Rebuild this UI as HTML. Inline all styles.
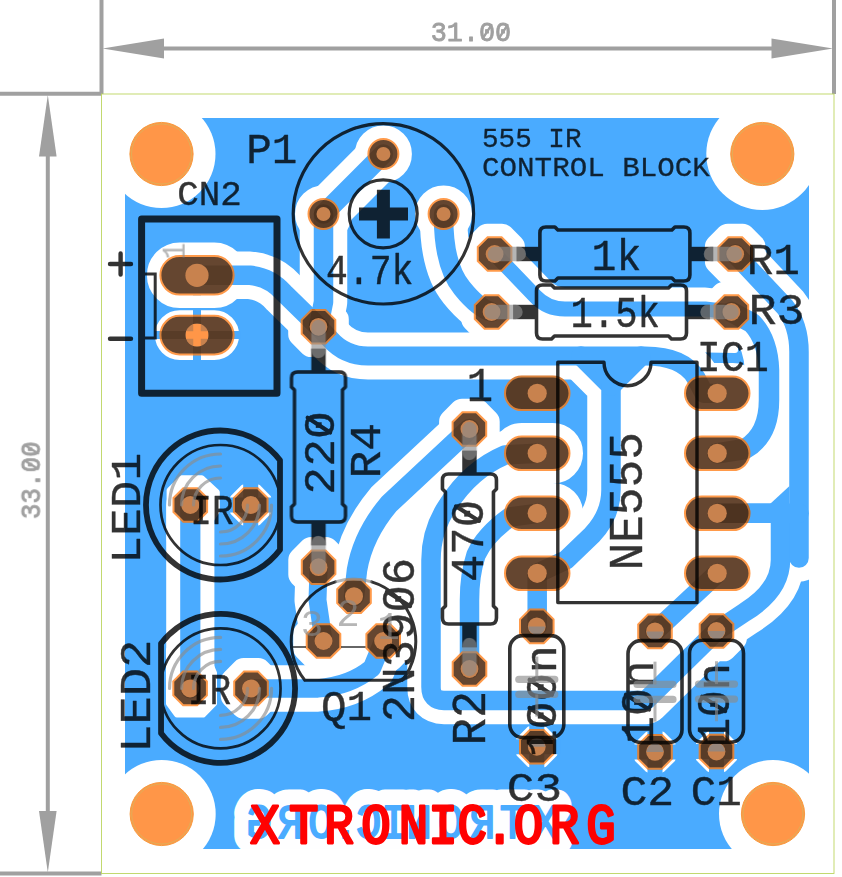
<!DOCTYPE html>
<html lang="en"><head><meta charset="utf-8"><title>555 IR Control Block PCB</title>
<style>html,body{margin:0;padding:0;background:#fff;overflow:hidden}svg{display:block}</style>
</head><body>
<svg width="842" height="877" viewBox="0 0 842 877">
<rect width="842" height="877" fill="#fff"/>
<g stroke="#a0a0a0" stroke-width="4" fill="#a0a0a0">
<line x1="101.5" y1="0" x2="101.5" y2="94"/><line x1="834" y1="0" x2="834" y2="94"/>
<line x1="0" y1="93.7" x2="101.5" y2="93.7"/><line x1="0" y1="873.5" x2="101.5" y2="873.5"/>
<line x1="150" y1="48.5" x2="786" y2="48.5"/><line x1="47.8" y1="142" x2="47.8" y2="826"/>
</g>
<g fill="#a0a0a0">
<polygon points="102.5,48.5 164,38.5 164,58.5"/><polygon points="833,48.5 771.5,38.5 771.5,58.5"/>
<polygon points="47.8,95 39,156.5 56.6,156.5"/><polygon points="47.8,872.5 39,811 56.6,811"/>
</g>
<g opacity="0.995">
<g transform="translate(430.79,40.60) scale(0.2681,0.2682)"><text font-family="Liberation Mono, monospace" font-weight="normal" font-size="100" fill="#a0a0a0" stroke="#a0a0a0" stroke-width="2.98" stroke-linejoin="round" stroke-linecap="round" >31.00</text><path d="M194.0,-8 L226.0,-58 M254.0,-8 L286.0,-58" fill="none" stroke="#a0a0a0" stroke-width="9" stroke-linecap="round"/></g>
<g transform="translate(40.10,519.16) rotate(-90) scale(0.2594,0.2682)"><text font-family="Liberation Mono, monospace" font-weight="normal" font-size="100" fill="#a0a0a0" stroke="#a0a0a0" stroke-width="3.03" stroke-linejoin="round" stroke-linecap="round" >33.00</text><path d="M194.0,-8 L226.0,-58 M254.0,-8 L286.0,-58" fill="none" stroke="#a0a0a0" stroke-width="9" stroke-linecap="round"/></g>
</g>
<rect x="101.5" y="94" width="732.5" height="779.5" fill="none" stroke="#bcd660" stroke-width="0.9"/>
<rect x="125" y="118" width="684" height="731" fill="#4aabff"/>
<circle cx="161.5" cy="154" r="54" fill="#fff"/>
<circle cx="762.3" cy="154" r="56" fill="#fff"/>
<circle cx="161.7" cy="814" r="54" fill="#fff"/>
<circle cx="773" cy="814" r="54" fill="#fff"/>
<rect x="762" y="110" width="55" height="50" fill="#fff"/>
<g fill="none" stroke="#fff" stroke-linecap="round" stroke-linejoin="round">
<path d="M197,275.3 H250 Q270,277 284,293 L318.5,326.8" stroke-width="47.5"/>
<path d="M323.5,214 V302 L318.5,326.8" stroke-width="47.5"/>
<path d="M323.5,214 L383.4,154" stroke-width="47.5"/>
<path d="M318.5,326.8 L330,339 Q345,356 368,356 H645 Q683,356 696,378 L704,393.3 L717.2,393.3" stroke-width="47.2"/>
<path d="M581,356 L611,386 V490 Q611,515 592,535 L566,560 L537.2,573.3" stroke-width="47.5"/>
<path d="M641,356 L611,386" stroke-width="47.5"/>
<path d="M537.2,573.3 V626.4" stroke-width="47.5"/>
<path d="M537.2,513.3 L510,517 Q485,535 476,555 Q469.5,575 469.5,600 V669" stroke-width="47.5"/>
<path d="M537.2,453.3 L505,455 Q470,470 448,505 Q431,530 431,560 V687 Q431,700.4 444,700.4 H646 L716.5,631 L745,612 Q780.5,590 780.5,560 V513.3 H717.2" stroke-width="47.5"/>
<path d="M735.2,254 L785,307 Q799,325 799,352 V558" stroke-width="47.5"/>
<path d="M717.2,513.3 H799" stroke-width="47.5"/>
<path d="M731.4,312 L752,323 Q768,340 769,370 V400 Q769,435 745,449 L717.2,453.3" stroke-width="48.5"/>
<path d="M443.6,214 Q443,265 462,288 Q478,308 491.6,312" stroke-width="47.5"/>
<path d="M494.6,254 L535,296 Q547,309 565,309 H705 L731.4,312" stroke-width="43.0"/>
<path d="M717.2,573.3 L655,631.4" stroke-width="47.5"/>
<path d="M469.4,429 L389,504 Q363,535 357,570 L354,596.2" stroke-width="48.5"/>
<path d="M318.6,567.2 L317.5,600 L323.5,641" stroke-width="46.0"/>
<path d="M251,688.4 H318 Q350,686 372,668 L383.2,641" stroke-width="46.5"/>
<path d="M190.3,505 V688.4" stroke-width="48.2"/>
</g>
<g fill="#fff" stroke="#fff" stroke-linejoin="round">
<rect x="159.4" y="255.0" width="75.2" height="40.6" rx="20.3" stroke-width="25.0"/>
<rect x="159.4" y="314.8" width="75.2" height="40.6" rx="20.3" stroke-width="9"/>
<circle cx="383.4" cy="154" r="16" stroke-width="25.0"/>
<circle cx="323.5" cy="214" r="16" stroke-width="25.0"/>
<circle cx="443.6" cy="214" r="16" stroke-width="25.0"/>
<polygon points="487.2,236.2 502.0,236.2 512.4,246.6 512.4,261.4 502.0,271.8 487.2,271.8 476.8,261.4 476.8,246.6" stroke-width="25.0"/>
<polygon points="727.8,236.2 742.6,236.2 753.0,246.6 753.0,261.4 742.6,271.8 727.8,271.8 717.4,261.4 717.4,246.6" stroke-width="25.0"/>
<polygon points="484.2,294.2 499.0,294.2 509.4,304.6 509.4,319.4 499.0,329.8 484.2,329.8 473.8,319.4 473.8,304.6" stroke-width="25.0"/>
<polygon points="724.0,294.2 738.8,294.2 749.2,304.6 749.2,319.4 738.8,329.8 724.0,329.8 713.6,319.4 713.6,304.6" stroke-width="25.0"/>
<polygon points="311.1,309.0 325.9,309.0 336.3,319.4 336.3,334.2 325.9,344.6 311.1,344.6 300.7,334.2 300.7,319.4" stroke-width="25.0"/>
<polygon points="311.2,549.4 326.0,549.4 336.4,559.8 336.4,574.6 326.0,585.0 311.2,585.0 300.8,574.6 300.8,559.8" stroke-width="25.0"/>
<polygon points="462.0,411.2 476.8,411.2 487.2,421.6 487.2,436.4 476.8,446.8 462.0,446.8 451.6,436.4 451.6,421.6" stroke-width="25.0"/>
<polygon points="462.1,651.2 476.9,651.2 487.3,661.6 487.3,676.4 476.9,686.8 462.1,686.8 451.7,676.4 451.7,661.6" stroke-width="25.0"/>
<rect x="684.0" y="375.5" width="66.5" height="35.6" rx="17.8" stroke-width="25.0"/>
<rect x="504.0" y="435.5" width="66.5" height="35.6" rx="17.8" stroke-width="25.0"/>
<rect x="684.0" y="435.5" width="66.5" height="35.6" rx="17.8" stroke-width="25.0"/>
<rect x="504.0" y="495.5" width="66.5" height="35.6" rx="17.8" stroke-width="25.0"/>
<rect x="684.0" y="495.5" width="66.5" height="35.6" rx="17.8" stroke-width="25.0"/>
<rect x="504.0" y="555.5" width="66.5" height="35.6" rx="17.8" stroke-width="25.0"/>
<rect x="684.0" y="555.5" width="66.5" height="35.6" rx="17.8" stroke-width="25.0"/>
<polygon points="529.4,608.6 544.2,608.6 554.6,619.0 554.6,633.8 544.2,644.2 529.4,644.2 519.0,633.8 519.0,619.0" stroke-width="25.0"/>
<polygon points="647.6,613.6 662.4,613.6 672.8,624.0 672.8,638.8 662.4,649.2 647.6,649.2 637.2,638.8 637.2,624.0" stroke-width="25.0"/>
<polygon points="709.1,613.2 723.9,613.2 734.3,623.6 734.3,638.4 723.9,648.8 709.1,648.8 698.7,638.4 698.7,623.6" stroke-width="25.0"/>
<polygon points="529.4,729.0 544.2,729.0 554.6,739.4 554.6,754.2 544.2,764.6 529.4,764.6 519.0,754.2 519.0,739.4" stroke-width="5.4"/>
<polygon points="647.6,734.1 662.4,734.1 672.8,744.5 672.8,759.3 662.4,769.7 647.6,769.7 637.2,759.3 637.2,744.5" stroke-width="5.4"/>
<polygon points="709.1,733.7 723.9,733.7 734.3,744.1 734.3,758.9 723.9,769.3 709.1,769.3 698.7,758.9 698.7,744.1" stroke-width="5.4"/>
<polygon points="346.6,578.4 361.4,578.4 371.8,588.8 371.8,603.6 361.4,614.0 346.6,614.0 336.2,603.6 336.2,588.8" stroke-width="25.0"/>
<polygon points="316.1,623.2 330.9,623.2 341.3,633.6 341.3,648.4 330.9,658.8 316.1,658.8 305.7,648.4 305.7,633.6" stroke-width="25.0"/>
<polygon points="375.8,623.2 390.6,623.2 401.0,633.6 401.0,648.4 390.6,658.8 375.8,658.8 365.4,648.4 365.4,633.6" stroke-width="25.0"/>
<polygon points="243.3,487.2 258.1,487.2 268.5,497.6 268.5,512.4 258.1,522.8 243.3,522.8 232.9,512.4 232.9,497.6" stroke-width="5.4"/>
<polygon points="243.6,670.6 258.4,670.6 268.8,681.0 268.8,695.8 258.4,706.2 243.6,706.2 233.2,695.8 233.2,681.0" stroke-width="25.0"/>
</g>
<g fill="#fff" stroke="#fff" stroke-width="6" stroke-linejoin="round">
<polygon points="169.6,490.4 181.9,478.2 201.7,478.2 216.8,492.3 216.8,511 210.2,521 210.2,540 169.6,540"/>
<polygon points="169,650 169,703.5 177,714.6 203,714.6 214,703.5 214,673 210.6,665 210.6,650"/>
<polygon points="318.6,567.2 360,548 354,596.2 323.5,641"/>
<polygon points="323.5,641 354,596.2 383.2,641"/>
<polygon points="323.5,641 383.2,641 345,687 300,687"/>
<polygon points="354,596.2 360,548 390,510 469.4,429 467,483 448,510 431,540 431,660 383.2,641"/>
<polygon points="537.2,453.3 537.2,513.3 499,524 481,543 469.5,571 469.5,640 431,640 431,540 448.5,510 467.5,483.5 493.6,460"/>
<polygon points="537.2,513.3 537.2,700 469.5,700 469.5,575 481,543 499,524"/>
<polygon points="611,386 641,356 660,356 717.2,393.3 717.2,573.3 655,631.4 646,700 537.2,700 537.2,573.3 567,558 611,500"/>
<polygon points="717.2,393.3 745,370 769,400 745,449 717.2,453.3"/>
<polygon points="717.2,453.3 745,449 769,400 799,400 799,500 780.5,513.3 717.2,513.3"/>
<polygon points="717.2,513.3 780.5,513.3 780.5,560 745,612 716.5,631 717.2,573.3"/>
<polygon points="716.5,631 717.2,573.3 655,631.4 646,700"/>
<polygon points="515,322 540,300 735,300 735,350 515,346"/>
<polygon points="494.6,254 540,300 491.6,312 462,288"/>
<polygon points="731.4,312 735.2,254 785,307 799,340 769,370 752,323"/>
</g>
<g opacity="0.995" transform="translate(557,0) scale(-1,1)"><text transform="translate(0,839.00) scale(0.4416,0.5000)" x="26.4 100.9 168.8 240.6 312.6 369.5 426.2 479.3 534.6 603.9 674.5" y="0" text-anchor="middle" font-family="Liberation Mono, monospace" font-weight="normal" font-size="100" fill="#fff" stroke="#fff" stroke-width="65.97" stroke-linejoin="round" stroke-linecap="round" >XTRONIC.ORG</text></g>
<g fill="none" stroke="#4aabff" stroke-linecap="round" stroke-linejoin="round">
<path d="M197,275.3 H250 Q270,277 284,293 L318.5,326.8" stroke-width="19.5"/>
<path d="M323.5,214 V302 L318.5,326.8" stroke-width="19.5"/>
<path d="M323.5,214 L383.4,154" stroke-width="19.5"/>
<path d="M318.5,326.8 L330,339 Q345,356 368,356 H645 Q683,356 696,378 L704,393.3 L717.2,393.3" stroke-width="19.2"/>
<path d="M581,356 L611,386 V490 Q611,515 592,535 L566,560 L537.2,573.3" stroke-width="19.5"/>
<path d="M641,356 L611,386" stroke-width="19.5"/>
<path d="M537.2,573.3 V626.4" stroke-width="19.5"/>
<path d="M537.2,513.3 L510,517 Q485,535 476,555 Q469.5,575 469.5,600 V669" stroke-width="19.5"/>
<path d="M537.2,453.3 L505,455 Q470,470 448,505 Q431,530 431,560 V687 Q431,700.4 444,700.4 H646 L716.5,631 L745,612 Q780.5,590 780.5,560 V513.3 H717.2" stroke-width="19.5"/>
<path d="M735.2,254 L785,307 Q799,325 799,352 V558" stroke-width="19.5"/>
<path d="M717.2,513.3 H799" stroke-width="19.5"/>
<path d="M731.4,312 L752,323 Q768,340 769,370 V400 Q769,435 745,449 L717.2,453.3" stroke-width="20.5"/>
<path d="M443.6,214 Q443,265 462,288 Q478,308 491.6,312" stroke-width="19.5"/>
<path d="M494.6,254 L535,296 Q547,309 565,309 H705 L731.4,312" stroke-width="15"/>
<path d="M717.2,573.3 L655,631.4" stroke-width="19.5"/>
<path d="M469.4,429 L389,504 Q363,535 357,570 L354,596.2" stroke-width="20.5"/>
<path d="M318.6,567.2 L317.5,600 L323.5,641" stroke-width="18"/>
<path d="M251,688.4 H318 Q350,686 372,668 L383.2,641" stroke-width="18.5"/>
<path d="M190.3,505 V688.4" stroke-width="20.2"/>
<polygon points="789.5,486 789.5,504 770,504" fill="#4aabff" stroke="none"/>
<polygon points="581,356 641,356 611,388" fill="#4aabff" stroke="none"/>
<path d="M153.4,335.1 H240.6 M197,308.8 V361.4" stroke-width="8" stroke-linecap="butt"/>
<path d="M513.0,746.8 H560.6 M536.8,723.0 V770.6" stroke-width="15" stroke-linecap="butt"/>
<path d="M631.2,751.9 H678.8 M655,728.1 V775.7" stroke-width="15" stroke-linecap="butt"/>
<path d="M692.7,751.5 H740.3 M716.5,727.7 V775.3" stroke-width="15" stroke-linecap="butt"/>
<path d="M226.9,505 H274.5 M250.7,481.2 V528.8" stroke-width="15" stroke-linecap="butt"/>
</g>
<g opacity="0.995" transform="translate(557,0) scale(-1,1)"><text transform="translate(0,838.10) scale(0.4257,0.4727)" x="27.4 104.7 175.1 249.6 324.2 383.2 442.1 497.1 554.5 626.4 699.6" y="0" text-anchor="middle" font-family="Liberation Mono, monospace" font-weight="normal" font-size="100" fill="#4aabff" stroke="#4aabff" stroke-width="4.01" stroke-linejoin="round" stroke-linecap="round" >XTRONIC.ORG</text></g>
<g fill="#654630" stroke="#ff9a4a" stroke-width="2">
<rect x="160.4" y="256.0" width="73.2" height="38.6" rx="19.3"/>
<rect x="160.4" y="315.8" width="73.2" height="38.6" rx="19.3"/>
<circle cx="383.4" cy="154" r="15"/>
<circle cx="323.5" cy="214" r="15"/>
<circle cx="443.6" cy="214" r="15"/>
<polygon points="487.6,237.2 501.6,237.2 511.4,247.0 511.4,261.0 501.6,270.8 487.6,270.8 477.8,261.0 477.8,247.0"/>
<polygon points="728.2,237.2 742.2,237.2 752.0,247.0 752.0,261.0 742.2,270.8 728.2,270.8 718.4,261.0 718.4,247.0"/>
<polygon points="484.6,295.2 498.6,295.2 508.4,305.0 508.4,319.0 498.6,328.8 484.6,328.8 474.8,319.0 474.8,305.0"/>
<polygon points="724.4,295.2 738.4,295.2 748.2,305.0 748.2,319.0 738.4,328.8 724.4,328.8 714.6,319.0 714.6,305.0"/>
<polygon points="311.5,310.0 325.5,310.0 335.3,319.8 335.3,333.8 325.5,343.6 311.5,343.6 301.7,333.8 301.7,319.8"/>
<polygon points="311.6,550.4 325.6,550.4 335.4,560.2 335.4,574.2 325.6,584.0 311.6,584.0 301.8,574.2 301.8,560.2"/>
<polygon points="462.4,412.2 476.4,412.2 486.2,422.0 486.2,436.0 476.4,445.8 462.4,445.8 452.6,436.0 452.6,422.0"/>
<polygon points="462.5,652.2 476.5,652.2 486.3,662.0 486.3,676.0 476.5,685.8 462.5,685.8 452.7,676.0 452.7,662.0"/>
<rect x="505.0" y="376.5" width="64.5" height="33.6" rx="16.8"/>
<rect x="685.0" y="376.5" width="64.5" height="33.6" rx="16.8"/>
<rect x="505.0" y="436.5" width="64.5" height="33.6" rx="16.8"/>
<rect x="685.0" y="436.5" width="64.5" height="33.6" rx="16.8"/>
<rect x="505.0" y="496.5" width="64.5" height="33.6" rx="16.8"/>
<rect x="685.0" y="496.5" width="64.5" height="33.6" rx="16.8"/>
<rect x="505.0" y="556.5" width="64.5" height="33.6" rx="16.8"/>
<rect x="685.0" y="556.5" width="64.5" height="33.6" rx="16.8"/>
<polygon points="529.8,609.6 543.8,609.6 553.6,619.4 553.6,633.4 543.8,643.2 529.8,643.2 520.0,633.4 520.0,619.4"/>
<polygon points="648.0,614.6 662.0,614.6 671.8,624.4 671.8,638.4 662.0,648.2 648.0,648.2 638.2,638.4 638.2,624.4"/>
<polygon points="709.5,614.2 723.5,614.2 733.3,624.0 733.3,638.0 723.5,647.8 709.5,647.8 699.7,638.0 699.7,624.0"/>
<polygon points="529.8,730.0 543.8,730.0 553.6,739.8 553.6,753.8 543.8,763.6 529.8,763.6 520.0,753.8 520.0,739.8"/>
<polygon points="648.0,735.1 662.0,735.1 671.8,744.9 671.8,758.9 662.0,768.7 648.0,768.7 638.2,758.9 638.2,744.9"/>
<polygon points="709.5,734.7 723.5,734.7 733.3,744.5 733.3,758.5 723.5,768.3 709.5,768.3 699.7,758.5 699.7,744.5"/>
<polygon points="347.0,579.4 361.0,579.4 370.8,589.2 370.8,603.2 361.0,613.0 347.0,613.0 337.2,603.2 337.2,589.2"/>
<polygon points="316.5,624.2 330.5,624.2 340.3,634.0 340.3,648.0 330.5,657.8 316.5,657.8 306.7,648.0 306.7,634.0"/>
<polygon points="376.2,624.2 390.2,624.2 400.0,634.0 400.0,648.0 390.2,657.8 376.2,657.8 366.4,648.0 366.4,634.0"/>
<polygon points="183.3,488.2 197.3,488.2 207.1,498.0 207.1,512.0 197.3,521.8 183.3,521.8 173.5,512.0 173.5,498.0"/>
<polygon points="243.7,488.2 257.7,488.2 267.5,498.0 267.5,512.0 257.7,521.8 243.7,521.8 233.9,512.0 233.9,498.0"/>
<polygon points="183.1,671.6 197.1,671.6 206.9,681.4 206.9,695.4 197.1,705.2 183.1,705.2 173.3,695.4 173.3,681.4"/>
<polygon points="244.0,671.6 258.0,671.6 267.8,681.4 267.8,695.4 258.0,705.2 244.0,705.2 234.2,695.4 234.2,681.4"/>
</g>
<clipPath id="padclip">
<rect x="159.4" y="255.0" width="75.2" height="40.6" rx="20.3"/>
<rect x="159.4" y="314.8" width="75.2" height="40.6" rx="20.3"/>
<circle cx="383.4" cy="154" r="16"/>
<circle cx="323.5" cy="214" r="16"/>
<circle cx="443.6" cy="214" r="16"/>
<polygon points="487.2,236.2 502.0,236.2 512.4,246.6 512.4,261.4 502.0,271.8 487.2,271.8 476.8,261.4 476.8,246.6"/>
<polygon points="727.8,236.2 742.6,236.2 753.0,246.6 753.0,261.4 742.6,271.8 727.8,271.8 717.4,261.4 717.4,246.6"/>
<polygon points="484.2,294.2 499.0,294.2 509.4,304.6 509.4,319.4 499.0,329.8 484.2,329.8 473.8,319.4 473.8,304.6"/>
<polygon points="724.0,294.2 738.8,294.2 749.2,304.6 749.2,319.4 738.8,329.8 724.0,329.8 713.6,319.4 713.6,304.6"/>
<polygon points="311.1,309.0 325.9,309.0 336.3,319.4 336.3,334.2 325.9,344.6 311.1,344.6 300.7,334.2 300.7,319.4"/>
<polygon points="311.2,549.4 326.0,549.4 336.4,559.8 336.4,574.6 326.0,585.0 311.2,585.0 300.8,574.6 300.8,559.8"/>
<polygon points="462.0,411.2 476.8,411.2 487.2,421.6 487.2,436.4 476.8,446.8 462.0,446.8 451.6,436.4 451.6,421.6"/>
<polygon points="462.1,651.2 476.9,651.2 487.3,661.6 487.3,676.4 476.9,686.8 462.1,686.8 451.7,676.4 451.7,661.6"/>
<rect x="504.0" y="375.5" width="66.5" height="35.6" rx="17.8"/>
<rect x="684.0" y="375.5" width="66.5" height="35.6" rx="17.8"/>
<rect x="504.0" y="435.5" width="66.5" height="35.6" rx="17.8"/>
<rect x="684.0" y="435.5" width="66.5" height="35.6" rx="17.8"/>
<rect x="504.0" y="495.5" width="66.5" height="35.6" rx="17.8"/>
<rect x="684.0" y="495.5" width="66.5" height="35.6" rx="17.8"/>
<rect x="504.0" y="555.5" width="66.5" height="35.6" rx="17.8"/>
<rect x="684.0" y="555.5" width="66.5" height="35.6" rx="17.8"/>
<polygon points="529.4,608.6 544.2,608.6 554.6,619.0 554.6,633.8 544.2,644.2 529.4,644.2 519.0,633.8 519.0,619.0"/>
<polygon points="647.6,613.6 662.4,613.6 672.8,624.0 672.8,638.8 662.4,649.2 647.6,649.2 637.2,638.8 637.2,624.0"/>
<polygon points="709.1,613.2 723.9,613.2 734.3,623.6 734.3,638.4 723.9,648.8 709.1,648.8 698.7,638.4 698.7,623.6"/>
<polygon points="529.4,729.0 544.2,729.0 554.6,739.4 554.6,754.2 544.2,764.6 529.4,764.6 519.0,754.2 519.0,739.4"/>
<polygon points="647.6,734.1 662.4,734.1 672.8,744.5 672.8,759.3 662.4,769.7 647.6,769.7 637.2,759.3 637.2,744.5"/>
<polygon points="709.1,733.7 723.9,733.7 734.3,744.1 734.3,758.9 723.9,769.3 709.1,769.3 698.7,758.9 698.7,744.1"/>
<polygon points="346.6,578.4 361.4,578.4 371.8,588.8 371.8,603.6 361.4,614.0 346.6,614.0 336.2,603.6 336.2,588.8"/>
<polygon points="316.1,623.2 330.9,623.2 341.3,633.6 341.3,648.4 330.9,658.8 316.1,658.8 305.7,648.4 305.7,633.6"/>
<polygon points="375.8,623.2 390.6,623.2 401.0,633.6 401.0,648.4 390.6,658.8 375.8,658.8 365.4,648.4 365.4,633.6"/>
<polygon points="182.9,487.2 197.7,487.2 208.1,497.6 208.1,512.4 197.7,522.8 182.9,522.8 172.5,512.4 172.5,497.6"/>
<polygon points="243.3,487.2 258.1,487.2 268.5,497.6 268.5,512.4 258.1,522.8 243.3,522.8 232.9,512.4 232.9,497.6"/>
<polygon points="182.7,670.6 197.5,670.6 207.9,681.0 207.9,695.8 197.5,706.2 182.7,706.2 172.3,695.8 172.3,681.0"/>
<polygon points="243.6,670.6 258.4,670.6 268.8,681.0 268.8,695.8 258.4,706.2 243.6,706.2 233.2,695.8 233.2,681.0"/>
</clipPath>
<g clip-path="url(#padclip)" fill="none" stroke="#1a0a00" stroke-opacity="0.17" stroke-linecap="round" stroke-linejoin="round">
<path d="M197,275.3 H250 Q270,277 284,293 L318.5,326.8" stroke-width="19.5"/>
<path d="M323.5,214 V302 L318.5,326.8" stroke-width="19.5"/>
<path d="M323.5,214 L383.4,154" stroke-width="19.5"/>
<path d="M318.5,326.8 L330,339 Q345,356 368,356 H645 Q683,356 696,378 L704,393.3 L717.2,393.3" stroke-width="19.2"/>
<path d="M581,356 L611,386 V490 Q611,515 592,535 L566,560 L537.2,573.3" stroke-width="19.5"/>
<path d="M641,356 L611,386" stroke-width="19.5"/>
<path d="M537.2,573.3 V626.4" stroke-width="19.5"/>
<path d="M537.2,513.3 L510,517 Q485,535 476,555 Q469.5,575 469.5,600 V669" stroke-width="19.5"/>
<path d="M537.2,453.3 L505,455 Q470,470 448,505 Q431,530 431,560 V687 Q431,700.4 444,700.4 H646 L716.5,631 L745,612 Q780.5,590 780.5,560 V513.3 H717.2" stroke-width="19.5"/>
<path d="M735.2,254 L785,307 Q799,325 799,352 V558" stroke-width="19.5"/>
<path d="M717.2,513.3 H799" stroke-width="19.5"/>
<path d="M731.4,312 L752,323 Q768,340 769,370 V400 Q769,435 745,449 L717.2,453.3" stroke-width="20.5"/>
<path d="M443.6,214 Q443,265 462,288 Q478,308 491.6,312" stroke-width="19.5"/>
<path d="M494.6,254 L535,296 Q547,309 565,309 H705 L731.4,312" stroke-width="15"/>
<path d="M717.2,573.3 L655,631.4" stroke-width="19.5"/>
<path d="M469.4,429 L389,504 Q363,535 357,570 L354,596.2" stroke-width="20.5"/>
<path d="M318.6,567.2 L317.5,600 L323.5,641" stroke-width="18"/>
<path d="M251,688.4 H318 Q350,686 372,668 L383.2,641" stroke-width="18.5"/>
<path d="M190.3,505 V688.4" stroke-width="20.2"/>
<path d="M157,335.1 H237 M197,295.1 V375.1" stroke-width="8" stroke-linecap="butt"/>
<path d="M497.20000000000005,393.3 H577.2" stroke-width="40" stroke-linecap="butt"/>
<path d="M496.79999999999995,746.8 H576.8 M536.8,706.8 V786.8" stroke-width="15" stroke-linecap="butt"/>
<path d="M615,751.9 H695 M655,711.9 V791.9" stroke-width="15" stroke-linecap="butt"/>
<path d="M676.5,751.5 H756.5 M716.5,711.5 V791.5" stroke-width="15" stroke-linecap="butt"/>
<path d="M210.7,505 H290.7 M250.7,465 V545" stroke-width="15" stroke-linecap="butt"/>
</g>
<circle cx="197" cy="275.3" r="11.6" fill="#c8824e"/>
<circle cx="197" cy="335.1" r="11.6" fill="#c8824e"/>
<circle cx="383.4" cy="154" r="7" fill="#c8824e"/>
<circle cx="323.5" cy="214" r="7" fill="#c8824e"/>
<circle cx="443.6" cy="214" r="7" fill="#c8824e"/>
<circle cx="494.6" cy="254" r="8.9" fill="#c8824e"/>
<circle cx="735.2" cy="254" r="8.9" fill="#c8824e"/>
<circle cx="491.6" cy="312" r="8.9" fill="#c8824e"/>
<circle cx="731.4" cy="312" r="8.9" fill="#c8824e"/>
<circle cx="318.5" cy="326.8" r="8.9" fill="#c8824e"/>
<circle cx="318.6" cy="567.2" r="8.9" fill="#c8824e"/>
<circle cx="469.4" cy="429" r="8.9" fill="#c8824e"/>
<circle cx="469.5" cy="669" r="8.9" fill="#c8824e"/>
<circle cx="537.2" cy="393.3" r="9.6" fill="#c8824e"/>
<circle cx="717.2" cy="393.3" r="9.6" fill="#c8824e"/>
<circle cx="537.2" cy="453.3" r="9.6" fill="#c8824e"/>
<circle cx="717.2" cy="453.3" r="9.6" fill="#c8824e"/>
<circle cx="537.2" cy="513.3" r="9.6" fill="#c8824e"/>
<circle cx="717.2" cy="513.3" r="9.6" fill="#c8824e"/>
<circle cx="537.2" cy="573.3" r="9.6" fill="#c8824e"/>
<circle cx="717.2" cy="573.3" r="9.6" fill="#c8824e"/>
<circle cx="536.8" cy="626.4" r="8.9" fill="#c8824e"/>
<path d="M528.4,626.4 A8.4,8.4 0 0 0 545.2,626.4 Z" fill="#97867b"/>
<circle cx="655" cy="631.4" r="8.9" fill="#c8824e"/>
<path d="M646.6,631.4 A8.4,8.4 0 0 0 663.4,631.4 Z" fill="#97867b"/>
<circle cx="716.5" cy="631" r="8.9" fill="#c8824e"/>
<path d="M708.1,631 A8.4,8.4 0 0 0 724.9,631 Z" fill="#97867b"/>
<circle cx="536.8" cy="746.8" r="8.9" fill="#c8824e"/>
<path d="M528.4,746.8 A8.4,8.4 0 0 1 545.2,746.8 Z" fill="#97867b"/>
<circle cx="655" cy="751.9" r="8.9" fill="#c8824e"/>
<path d="M646.6,751.9 A8.4,8.4 0 0 1 663.4,751.9 Z" fill="#97867b"/>
<circle cx="716.5" cy="751.5" r="8.9" fill="#c8824e"/>
<path d="M708.1,751.5 A8.4,8.4 0 0 1 724.9,751.5 Z" fill="#97867b"/>
<circle cx="354" cy="596.2" r="9" fill="#c8824e"/>
<circle cx="323.5" cy="641" r="9" fill="#c8824e"/>
<circle cx="383.2" cy="641" r="9" fill="#c8824e"/>
<circle cx="190.3" cy="505" r="9" fill="#c8824e"/>
<circle cx="250.7" cy="505" r="9" fill="#c8824e"/>
<circle cx="190.1" cy="688.4" r="9" fill="#c8824e"/>
<circle cx="251" cy="688.4" r="9" fill="#c8824e"/>
<path d="M186.0,335.1 H208.0 M197,324.1 V346.1" stroke="#ff9648" stroke-width="7.5" fill="none"/>
<circle cx="161.5" cy="154" r="31.6" fill="#ff9648" stroke="#f79a3e" stroke-width="1"/>
<circle cx="161.5" cy="154" r="30" fill="none" stroke="#d9b45a" stroke-width="0.8"/>
<circle cx="762.3" cy="154" r="31.6" fill="#ff9648" stroke="#f79a3e" stroke-width="1"/>
<circle cx="762.3" cy="154" r="30" fill="none" stroke="#d9b45a" stroke-width="0.8"/>
<circle cx="161.7" cy="814" r="31.6" fill="#ff9648" stroke="#f79a3e" stroke-width="1"/>
<circle cx="161.7" cy="814" r="30" fill="none" stroke="#d9b45a" stroke-width="0.8"/>
<circle cx="773" cy="814" r="31.6" fill="#ff9648" stroke="#f79a3e" stroke-width="1"/>
<circle cx="773" cy="814" r="30" fill="none" stroke="#d9b45a" stroke-width="0.8"/>
<g opacity="0.8">
<g transform="translate(614.9000000000001,254) "><path d="M-75.0,-21.0 Q-75.0,-27.0 -69.0,-27.0 H-60 L-57,-24.0 H57 L60,-27.0 H69.0 Q75.0,-27.0 75.0,-21.0 V21.0 Q75.0,27.0 69.0,27.0 H60 L57,24.0 H-57 L-60,27.0 H-69.0 Q-75.0,27.0 -75.0,21.0 Z" fill="none" stroke="#000" stroke-width="3.6" stroke-linejoin="round"/><rect x="75" y="-7.2" width="23.4" height="14.4" fill="#000"/><rect x="-98.4" y="-7.2" width="23.4" height="14.4" fill="#000"/></g>
<g transform="translate(611.5,312) "><path d="M-75.0,-21.0 Q-75.0,-27.0 -69.0,-27.0 H-60 L-57,-24.0 H57 L60,-27.0 H69.0 Q75.0,-27.0 75.0,-21.0 V21.0 Q75.0,27.0 69.0,27.0 H60 L57,24.0 H-57 L-60,27.0 H-69.0 Q-75.0,27.0 -75.0,21.0 Z" fill="none" stroke="#000" stroke-width="3.6" stroke-linejoin="round"/><rect x="75" y="-7.2" width="23.4" height="14.4" fill="#000"/><rect x="-98.4" y="-7.2" width="23.4" height="14.4" fill="#000"/></g>
<g transform="translate(318.5,447.0) rotate(90)"><path d="M-75.0,-21.0 Q-75.0,-27.0 -69.0,-27.0 H-60 L-57,-24.0 H57 L60,-27.0 H69.0 Q75.0,-27.0 75.0,-21.0 V21.0 Q75.0,27.0 69.0,27.0 H60 L57,24.0 H-57 L-60,27.0 H-69.0 Q-75.0,27.0 -75.0,21.0 Z" fill="none" stroke="#000" stroke-width="3.6" stroke-linejoin="round"/><rect x="75" y="-7.2" width="23.4" height="14.4" fill="#000"/><rect x="-98.4" y="-7.2" width="23.4" height="14.4" fill="#000"/></g>
<g transform="translate(469.45,549) rotate(90)"><path d="M-75.0,-21.0 Q-75.0,-27.0 -69.0,-27.0 H-60 L-57,-24.0 H57 L60,-27.0 H69.0 Q75.0,-27.0 75.0,-21.0 V21.0 Q75.0,27.0 69.0,27.0 H60 L57,24.0 H-57 L-60,27.0 H-69.0 Q-75.0,27.0 -75.0,21.0 Z" fill="none" stroke="#000" stroke-width="3.6" stroke-linejoin="round"/><rect x="75" y="-7.2" width="23.4" height="14.4" fill="#000"/><rect x="-98.4" y="-7.2" width="23.4" height="14.4" fill="#000"/></g>
<rect x="509.79999999999995" y="635.5999999999999" width="54" height="102" rx="13" fill="none" stroke="#000" stroke-width="3.6"/>
<rect x="628" y="640.65" width="54" height="102" rx="13" fill="none" stroke="#000" stroke-width="3.6"/>
<rect x="689.5" y="640.25" width="54" height="102" rx="13" fill="none" stroke="#000" stroke-width="3.6"/>
<rect x="141.6" y="219" width="135.4" height="174.2" fill="none" stroke="#000" stroke-width="7" stroke-linejoin="round"/>
<path d="M145,274 H155.2 V338 H145" fill="none" stroke="#000" stroke-width="3"/>
<path d="M110,264 H131 M120.6,253.5 V274.5 M110,338.7 H131" stroke="#000" stroke-width="4.4" stroke-linecap="round" fill="none"/>
<circle cx="383.4" cy="213.8" r="90.2" fill="none" stroke="#000" stroke-width="3.2"/>
<circle cx="383.2" cy="213.8" r="34" fill="none" stroke="#000" stroke-width="3.2"/>
<path d="M359,214 H408 M383.4,189.8 V238.5" stroke="#000" stroke-width="13" fill="none"/>
<path d="M557.8,362.2 H604 A23.5,23.5 0 0 0 651,362.2 H697 V602.6 H557.8 Z" fill="none" stroke="#000" stroke-width="3.4" stroke-linejoin="round"/>
<g transform="translate(220.5,505) scale(1,1)"><path d="M59.5,-44.8 A74.5,74.5 0 1 0 59.5,44.8 Z" fill="none" stroke="#000" stroke-width="5.8" stroke-linejoin="round"/><circle r="60" fill="none" stroke="#000" stroke-width="2.7"/></g>
<g transform="translate(220.55,688.4) scale(-1,1)"><path d="M59.5,-44.8 A74.5,74.5 0 1 0 59.5,44.8 Z" fill="none" stroke="#000" stroke-width="5.8" stroke-linejoin="round"/><circle r="60" fill="none" stroke="#000" stroke-width="2.7"/></g>
<path d="M304.8,680.3 H402.2 A62.3,62.3 0 0 0 371.7,581.9 M335.3,581.9 A62.3,62.3 0 0 0 304.8,680.3" fill="none" stroke="#000" stroke-width="3" stroke-linecap="round"/>
<path d="M292.5,647 H306 M341,647 H365.5" stroke="#000" stroke-width="1.6" fill="none"/>
<g transform="translate(246.31,162.60) scale(0.4259,0.4303)"><text font-family="Liberation Mono, monospace" font-weight="normal" font-size="100" fill="#000" stroke="#000" stroke-width="0.93" stroke-linejoin="round" stroke-linecap="round" >P1</text></g>
<g transform="translate(177.23,205.20) scale(0.3588,0.3545)"><text font-family="Liberation Mono, monospace" font-weight="normal" font-size="100" fill="#000" stroke="#000" stroke-width="1.12" stroke-linejoin="round" stroke-linecap="round" >CN2</text></g>
<g transform="translate(326.08,284.20) scale(0.3635,0.4303)"><text font-family="Liberation Mono, monospace" font-weight="normal" font-size="100" fill="#000" stroke="#000" stroke-width="1.01" stroke-linejoin="round" stroke-linecap="round" >4.7k</text></g>
<g transform="translate(481.99,147.35) scale(0.2765,0.2758)"><text font-family="Liberation Mono, monospace" font-weight="normal" font-size="100" fill="#000" stroke="#000" stroke-width="1.09" stroke-linejoin="round" stroke-linecap="round" >555 IR</text></g>
<g transform="translate(482.04,176.35) scale(0.2921,0.2682)"><text font-family="Liberation Mono, monospace" font-weight="normal" font-size="100" fill="#000" stroke="#000" stroke-width="1.07" stroke-linejoin="round" stroke-linecap="round" >CONTROL BLOCK</text></g>
<g transform="translate(591.50,269.50) scale(0.4148,0.4424)"><text font-family="Liberation Mono, monospace" font-weight="normal" font-size="100" fill="#000" stroke="#000" stroke-width="0.93" stroke-linejoin="round" stroke-linecap="round" >1k</text></g>
<g transform="translate(570.49,327.20) scale(0.3724,0.4424)"><text font-family="Liberation Mono, monospace" font-weight="normal" font-size="100" fill="#000" stroke="#000" stroke-width="0.99" stroke-linejoin="round" stroke-linecap="round" >1.5k</text></g>
<g transform="translate(746.67,274.10) scale(0.4444,0.4348)"><text font-family="Liberation Mono, monospace" font-weight="normal" font-size="100" fill="#000" stroke="#000" stroke-width="0.91" stroke-linejoin="round" stroke-linecap="round" >R1</text></g>
<g transform="translate(748.39,323.50) scale(0.4685,0.4348)"><text font-family="Liberation Mono, monospace" font-weight="normal" font-size="100" fill="#000" stroke="#000" stroke-width="0.89" stroke-linejoin="round" stroke-linecap="round" >R3</text></g>
<g transform="translate(696.69,370.80) scale(0.4006,0.4485)"><text font-family="Liberation Mono, monospace" font-weight="normal" font-size="100" fill="#000" stroke="#000" stroke-width="0.94" stroke-linejoin="round" stroke-linecap="round" >IC1</text></g>
<g transform="translate(466.43,400.75) scale(0.4454,0.4894)"><text font-family="Liberation Mono, monospace" font-weight="normal" font-size="100" fill="#000" stroke="#000" stroke-width="0.64" stroke-linejoin="round" stroke-linecap="round" >1</text></g>
<g transform="translate(642.30,570.56) rotate(-90) scale(0.4614,0.4803)"><text font-family="Liberation Mono, monospace" font-weight="normal" font-size="100" fill="#000" stroke="#000" stroke-width="0.85" stroke-linejoin="round" stroke-linecap="round" >NE555</text></g>
<g transform="translate(333.80,494.64) rotate(-90) scale(0.4635,0.4515)"><text font-family="Liberation Mono, monospace" font-weight="normal" font-size="100" fill="#000" stroke="#000" stroke-width="0.87" stroke-linejoin="round" stroke-linecap="round" >220</text><path d="M134.0,-8 L166.0,-58" fill="none" stroke="#000" stroke-width="9" stroke-linecap="round"/></g>
<g transform="translate(380.20,478.58) rotate(-90) scale(0.4642,0.4394)"><text font-family="Liberation Mono, monospace" font-weight="normal" font-size="100" fill="#000" stroke="#000" stroke-width="0.89" stroke-linejoin="round" stroke-linecap="round" >R4</text></g>
<g transform="translate(482.80,582.08) rotate(-90) scale(0.4562,0.4636)"><text font-family="Liberation Mono, monospace" font-weight="normal" font-size="100" fill="#000" stroke="#000" stroke-width="0.87" stroke-linejoin="round" stroke-linecap="round" >470</text><path d="M134.0,-8 L166.0,-58" fill="none" stroke="#000" stroke-width="9" stroke-linecap="round"/></g>
<g transform="translate(484.80,745.18) rotate(-90) scale(0.4512,0.4788)"><text font-family="Liberation Mono, monospace" font-weight="normal" font-size="100" fill="#000" stroke="#000" stroke-width="0.86" stroke-linejoin="round" stroke-linecap="round" >R2</text></g>
<g transform="translate(413.80,722.20) rotate(-90) scale(0.4568,0.4636)"><text font-family="Liberation Mono, monospace" font-weight="normal" font-size="100" fill="#000" stroke="#000" stroke-width="0.87" stroke-linejoin="round" stroke-linecap="round" >2N3906</text><path d="M254.0,-8 L286.0,-58" fill="none" stroke="#000" stroke-width="9" stroke-linecap="round"/></g>
<g transform="translate(320.88,720.30) scale(0.4261,0.4318)"><text font-family="Liberation Mono, monospace" font-weight="normal" font-size="100" fill="#000" stroke="#000" stroke-width="0.93" stroke-linejoin="round" stroke-linecap="round" >Q1</text></g>
<g transform="translate(555.60,757.47) rotate(-90) scale(0.4677,0.4500)"><text font-family="Liberation Mono, monospace" font-weight="normal" font-size="100" fill="#000" stroke="#000" stroke-width="0.87" stroke-linejoin="round" stroke-linecap="round" >100n</text><path d="M74.0,-8 L106.0,-58 M134.0,-8 L166.0,-58" fill="none" stroke="#000" stroke-width="9" stroke-linecap="round"/></g>
<g transform="translate(652.80,744.06) rotate(-90) scale(0.4657,0.4636)"><text font-family="Liberation Mono, monospace" font-weight="normal" font-size="100" fill="#000" stroke="#000" stroke-width="0.86" stroke-linejoin="round" stroke-linecap="round" >10n</text><path d="M74.0,-8 L106.0,-58" fill="none" stroke="#000" stroke-width="9" stroke-linecap="round"/></g>
<g transform="translate(728.90,744.89) rotate(-90) scale(0.4553,0.4621)"><text font-family="Liberation Mono, monospace" font-weight="normal" font-size="100" fill="#000" stroke="#000" stroke-width="0.87" stroke-linejoin="round" stroke-linecap="round" >10n</text><path d="M74.0,-8 L106.0,-58" fill="none" stroke="#000" stroke-width="9" stroke-linecap="round"/></g>
<g transform="translate(506.87,800.60) scale(0.4599,0.4045)"><text font-family="Liberation Mono, monospace" font-weight="normal" font-size="100" fill="#000" stroke="#000" stroke-width="0.93" stroke-linejoin="round" stroke-linecap="round" >C3</text></g>
<g transform="translate(620.43,804.80) scale(0.4484,0.4182)"><text font-family="Liberation Mono, monospace" font-weight="normal" font-size="100" fill="#000" stroke="#000" stroke-width="0.92" stroke-linejoin="round" stroke-linecap="round" >C2</text></g>
<g transform="translate(690.66,804.80) scale(0.4255,0.4182)"><text font-family="Liberation Mono, monospace" font-weight="normal" font-size="100" fill="#000" stroke="#000" stroke-width="0.95" stroke-linejoin="round" stroke-linecap="round" >C1</text></g>
<g transform="translate(190.26,524.30) scale(0.3620,0.4333)"><text font-family="Liberation Mono, monospace" font-weight="normal" font-size="100" fill="#000" stroke="#000" stroke-width="1.01" stroke-linejoin="round" stroke-linecap="round" >IR</text></g>
<g transform="translate(187.78,704.30) scale(0.3602,0.4409)"><text font-family="Liberation Mono, monospace" font-weight="normal" font-size="100" fill="#000" stroke="#000" stroke-width="1.00" stroke-linejoin="round" stroke-linecap="round" >IR</text></g>
<g transform="translate(139.90,563.71) rotate(-90) scale(0.4621,0.4303)"><text font-family="Liberation Mono, monospace" font-weight="normal" font-size="100" fill="#000" stroke="#000" stroke-width="0.90" stroke-linejoin="round" stroke-linecap="round" >LED1</text></g>
<g transform="translate(149.80,752.83) rotate(-90) scale(0.4718,0.4485)"><text font-family="Liberation Mono, monospace" font-weight="normal" font-size="100" fill="#000" stroke="#000" stroke-width="0.87" stroke-linejoin="round" stroke-linecap="round" >LED2</text></g>
</g>
<g transform="translate(614.9000000000001,254) " stroke="rgba(140,140,140,0.64)" stroke-width="14.4" stroke-linecap="round"><line x1="96" y1="0" x2="120" y2="0"/><line x1="-96" y1="0" x2="-120" y2="0"/></g>
<g transform="translate(611.5,312) " stroke="rgba(140,140,140,0.64)" stroke-width="14.4" stroke-linecap="round"><line x1="96" y1="0" x2="120" y2="0"/><line x1="-96" y1="0" x2="-120" y2="0"/></g>
<g transform="translate(318.5,447.0) rotate(90)" stroke="rgba(140,140,140,0.64)" stroke-width="14.4" stroke-linecap="round"><line x1="96" y1="0" x2="120" y2="0"/><line x1="-96" y1="0" x2="-120" y2="0"/></g>
<g transform="translate(469.45,549) rotate(90)" stroke="rgba(140,140,140,0.64)" stroke-width="14.4" stroke-linecap="round"><line x1="96" y1="0" x2="120" y2="0"/><line x1="-96" y1="0" x2="-120" y2="0"/></g>
<g transform="translate(536.8,686.5999999999999)" stroke="rgba(140,140,140,0.64)" fill="none"><line x1="-18" y1="-7.2" x2="18" y2="-7.2" stroke-width="7.2" stroke-linecap="round"/><line x1="-18" y1="7.8" x2="18" y2="7.8" stroke-width="7.2" stroke-linecap="round"/><line x1="0" y1="-30" x2="0" y2="-7.2" stroke-width="3"/><line x1="0" y1="7.8" x2="0" y2="30" stroke-width="3"/></g>
<g transform="translate(655,691.65)" stroke="rgba(140,140,140,0.64)" fill="none"><line x1="-18" y1="-7.2" x2="18" y2="-7.2" stroke-width="7.2" stroke-linecap="round"/><line x1="-18" y1="7.8" x2="18" y2="7.8" stroke-width="7.2" stroke-linecap="round"/><line x1="0" y1="-30" x2="0" y2="-7.2" stroke-width="3"/><line x1="0" y1="7.8" x2="0" y2="30" stroke-width="3"/></g>
<g transform="translate(716.5,691.25)" stroke="rgba(140,140,140,0.64)" fill="none"><line x1="-18" y1="-7.2" x2="18" y2="-7.2" stroke-width="7.2" stroke-linecap="round"/><line x1="-18" y1="7.8" x2="18" y2="7.8" stroke-width="7.2" stroke-linecap="round"/><line x1="0" y1="-30" x2="0" y2="-7.2" stroke-width="3"/><line x1="0" y1="7.8" x2="0" y2="30" stroke-width="3"/></g>
<g transform="translate(220.5,505)" fill="none" stroke="rgba(140,140,140,0.64)" stroke-width="3.2" stroke-linecap="round"><path d="M0,-27 A27,27 0 0 0 -27,0"/><path d="M0,27 A27,27 0 0 0 27,0"/><path d="M0,-39 A39,39 0 0 0 -39,0"/><path d="M0,39 A39,39 0 0 0 39,0"/><path d="M0,-51 A51,51 0 0 0 -51,0"/><path d="M0,51 A51,51 0 0 0 51,0"/></g>
<g transform="translate(220.55,688.4)" fill="none" stroke="rgba(140,140,140,0.64)" stroke-width="3.2" stroke-linecap="round"><path d="M0,-27 A27,27 0 0 0 -27,0"/><path d="M0,27 A27,27 0 0 0 27,0"/><path d="M0,-39 A39,39 0 0 0 -39,0"/><path d="M0,39 A39,39 0 0 0 39,0"/><path d="M0,-51 A51,51 0 0 0 -51,0"/><path d="M0,51 A51,51 0 0 0 51,0"/></g>
<path d="M371.7,581.9 A62.3,62.3 0 0 0 335.3,581.9" fill="none" stroke="rgba(140,140,140,0.64)" stroke-width="3"/>
<g fill="rgba(140,140,140,0.64)" opacity="0.995">
<g transform="translate(300.75,636.00) scale(0.3750,0.3712)"><text font-family="Liberation Mono, monospace" font-weight="normal" font-size="100" fill="rgba(140,140,140,0.64)" >3</text></g>
<g transform="translate(336.26,626.00) scale(0.3913,0.3939)"><text font-family="Liberation Mono, monospace" font-weight="normal" font-size="100" fill="rgba(140,140,140,0.64)" >2</text></g>
<g transform="translate(377.40,639.00) scale(0.3711,0.3939)"><text font-family="Liberation Mono, monospace" font-weight="normal" font-size="100" fill="rgba(140,140,140,0.64)" >1</text></g>
<g transform="translate(185.00,259.45) rotate(-90) scale(0.2784,0.3333)"><text font-family="Liberation Mono, monospace" font-weight="normal" font-size="100" fill="rgba(140,140,140,0.64)" >1</text></g>
</g>
<g opacity="0.995">
<text transform="translate(0,842.70) scale(0.4911,0.5515)" x="539.8 618.4 690.1 765.8 841.8 901.9 961.7 1017.7 1076.2 1149.3 1223.8" y="0" text-anchor="middle" font-family="Liberation Mono, monospace" font-weight="normal" font-size="100" fill="#ff0000" stroke="#ff0000" stroke-width="5.00" stroke-linejoin="round" stroke-linecap="round" >XTRONIC.ORG</text>
</g>
</svg>
</body></html>
